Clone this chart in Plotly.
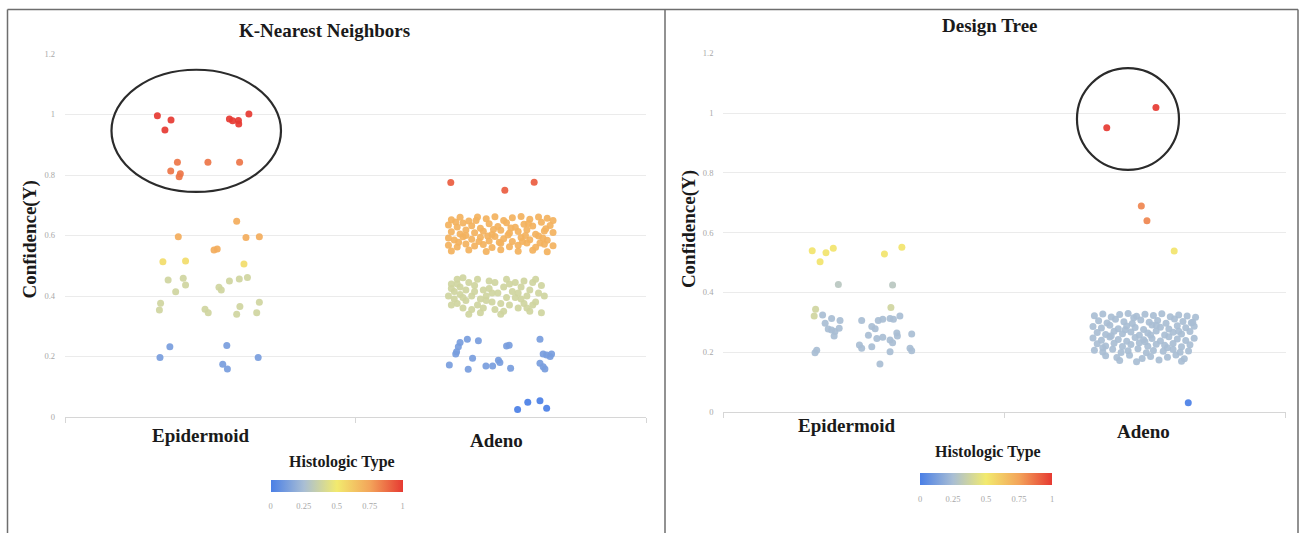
import plotly.graph_objects as go

W, H = 1301, 533

# ---------------- data ----------------
categories = ["Epidermoid", "Adeno"]
y_tickvals = [0, 0.2, 0.4, 0.6, 0.8, 1, 1.2]
y_ticktext = ["0", "0.2", "0.4", "0.6", "0.8", "1", "1.2"]
cbar_tickvals = [0, 0.25, 0.5, 0.75, 1]
cbar_ticktext = ["0", "0.25", "0.5", "0.75", "1"]

# (x jitter within category axis units, confidence)
# ---- K-Nearest Neighbors ----
knn_epi_red = [(0.318, 0.996), (0.365, 0.982), (0.344, 0.949), (0.566, 0.985), (0.577, 0.979),
               (0.597, 0.980), (0.598, 0.969), (0.633, 1.002)]
knn_epi_hi = [(0.387, 0.842), (0.364, 0.813), (0.397, 0.804), (0.393, 0.794), (0.492, 0.842), (0.601, 0.842)]
knn_epi_orange = [(0.591, 0.647), (0.390, 0.596), (0.623, 0.593), (0.669, 0.596), (0.524, 0.555), (0.513, 0.552)]
knn_epi_yellow = [(0.337, 0.513), (0.415, 0.516), (0.616, 0.506)]
knn_epi_green = [(0.355, 0.453), (0.407, 0.459), (0.415, 0.436), (0.381, 0.414), (0.530, 0.429), (0.538, 0.420),
                 (0.566, 0.450), (0.600, 0.456), (0.628, 0.461), (0.329, 0.376), (0.325, 0.354), (0.482, 0.356),
                 (0.493, 0.345), (0.602, 0.365), (0.591, 0.340), (0.669, 0.379), (0.660, 0.345)]
knn_epi_blue = [(0.361, 0.232), (0.327, 0.197), (0.557, 0.236), (0.665, 0.197), (0.543, 0.174), (0.559, 0.159)]

knn_ade_red = [(1.328, 0.775), (1.514, 0.750), (1.615, 0.776)]
knn_ade_orange = [
    (1.33, 0.652), (1.36, 0.660), (1.39, 0.648), (1.42, 0.661), (1.45, 0.655), (1.48, 0.662), (1.51, 0.650),
    (1.54, 0.659), (1.57, 0.663), (1.60, 0.654), (1.63, 0.661), (1.66, 0.657), (1.68, 0.650),
    (1.32, 0.635), (1.35, 0.628), (1.37, 0.641), (1.40, 0.632), (1.43, 0.624), (1.46, 0.639), (1.49, 0.630),
    (1.52, 0.642), (1.55, 0.627), (1.58, 0.637), (1.61, 0.631), (1.64, 0.644), (1.67, 0.633),
    (1.33, 0.612), (1.36, 0.605), (1.38, 0.618), (1.41, 0.609), (1.44, 0.614), (1.47, 0.603), (1.50, 0.617),
    (1.53, 0.608), (1.56, 0.613), (1.59, 0.619), (1.62, 0.604), (1.65, 0.615), (1.68, 0.610),
    (1.32, 0.592), (1.34, 0.585), (1.37, 0.596), (1.40, 0.588), (1.43, 0.594), (1.46, 0.582), (1.48, 0.597),
    (1.51, 0.589), (1.54, 0.580), (1.57, 0.593), (1.60, 0.586), (1.63, 0.598), (1.66, 0.584),
    (1.32, 0.568), (1.35, 0.562), (1.38, 0.572), (1.41, 0.565), (1.44, 0.570), (1.47, 0.560), (1.50, 0.574),
    (1.53, 0.563), (1.56, 0.568), (1.59, 0.575), (1.62, 0.561), (1.65, 0.571), (1.68, 0.566),
    (1.33, 0.549), (1.39, 0.552), (1.45, 0.547), (1.50, 0.553), (1.56, 0.548), (1.61, 0.551), (1.66, 0.546),
    (1.345, 0.645), (1.415, 0.650), (1.475, 0.620), (1.535, 0.625), (1.595, 0.640), (1.655, 0.622),
    (1.38, 0.600), (1.455, 0.598), (1.525, 0.602), (1.585, 0.600), (1.645, 0.592), (1.355, 0.578),
    (1.425, 0.580), (1.495, 0.578), (1.575, 0.580), (1.635, 0.575)]
knn_ade_green = [
    (1.33, 0.440), (1.35, 0.455), (1.37, 0.460), (1.36, 0.430), (1.34, 0.415), (1.32, 0.400), (1.34, 0.390),
    (1.36, 0.405), (1.38, 0.420), (1.39, 0.445), (1.41, 0.435), (1.40, 0.400), (1.38, 0.385), (1.35, 0.375),
    (1.33, 0.370), (1.37, 0.360), (1.40, 0.355), (1.42, 0.370), (1.43, 0.390), (1.44, 0.420), (1.46, 0.450),
    (1.45, 0.400), (1.47, 0.380), (1.48, 0.355), (1.50, 0.375), (1.49, 0.410), (1.51, 0.430), (1.52, 0.455),
    (1.53, 0.440), (1.54, 0.415), (1.55, 0.395), (1.53, 0.370), (1.56, 0.360), (1.57, 0.430), (1.58, 0.450),
    (1.59, 0.400), (1.60, 0.420), (1.61, 0.445), (1.62, 0.380), (1.63, 0.410), (1.64, 0.435), (1.65, 0.400),
    (1.60, 0.350), (1.64, 0.345), (1.58, 0.375), (1.43, 0.345), (1.39, 0.340), (1.46, 0.425), (1.48, 0.445),
    (1.52, 0.395), (1.35, 0.440), (1.42, 0.455), (1.44, 0.360), (1.50, 0.340), (1.56, 0.410), (1.62, 0.455),
    (1.57, 0.390), (1.41, 0.415), (1.37, 0.395), (1.47, 0.410), (1.55, 0.445), (1.61, 0.370), (1.33, 0.425),
    (1.51, 0.350), (1.45, 0.385), (1.59, 0.360)]
knn_ade_blue = [
    (1.360, 0.246), (1.354, 0.232), (1.348, 0.216), (1.345, 0.208), (1.385, 0.257), (1.423, 0.252),
    (1.323, 0.172), (1.388, 0.158), (1.403, 0.194), (1.449, 0.169), (1.472, 0.169), (1.492, 0.188),
    (1.497, 0.180), (1.520, 0.235), (1.529, 0.237), (1.534, 0.161), (1.635, 0.257), (1.646, 0.208),
    (1.658, 0.205), (1.670, 0.200), (1.675, 0.208), (1.635, 0.178), (1.646, 0.166), (1.652, 0.159)]
knn_ade_low = [(1.558, 0.025), (1.593, 0.049), (1.635, 0.054), (1.658, 0.029)]

# ---- Design Tree ----
dt_epi_yellow = [(0.316, 0.540), (0.344, 0.503), (0.365, 0.533), (0.391, 0.548), (0.573, 0.529), (0.635, 0.551)]
dt_epi_mid = [(0.409, 0.427), (0.602, 0.425)]
dt_epi_green = [(0.596, 0.350), (0.328, 0.344), (0.323, 0.321)]
dt_epi_gray = [
    (0.353, 0.325), (0.385, 0.313), (0.415, 0.306), (0.362, 0.297), (0.373, 0.278), (0.385, 0.274),
    (0.397, 0.269), (0.394, 0.254), (0.412, 0.280), (0.492, 0.306), (0.528, 0.286), (0.540, 0.279),
    (0.551, 0.306), (0.567, 0.310), (0.593, 0.313), (0.605, 0.310), (0.628, 0.321), (0.516, 0.257),
    (0.546, 0.246), (0.567, 0.250), (0.593, 0.241), (0.617, 0.264), (0.619, 0.254), (0.602, 0.232),
    (0.484, 0.224), (0.492, 0.213), (0.528, 0.218), (0.670, 0.261), (0.593, 0.202), (0.664, 0.213),
    (0.670, 0.205), (0.332, 0.207), (0.326, 0.198), (0.557, 0.161)]
dt_ade_red = [(1.364, 0.951), (1.539, 1.019)]
dt_ade_orange = [(1.487, 0.689), (1.507, 0.640)]
dt_ade_yellow = [(1.604, 0.539)]
dt_ade_gray = [
    (1.32, 0.322), (1.35, 0.328), (1.38, 0.318), (1.41, 0.326), (1.44, 0.330), (1.47, 0.320), (1.50, 0.327),
    (1.53, 0.323), (1.56, 0.329), (1.59, 0.319), (1.62, 0.325), (1.65, 0.321), (1.68, 0.317),
    (1.335, 0.305), (1.365, 0.298), (1.395, 0.310), (1.425, 0.302), (1.455, 0.296), (1.485, 0.308),
    (1.515, 0.300), (1.545, 0.306), (1.575, 0.297), (1.605, 0.311), (1.635, 0.303), (1.665, 0.299),
    (1.315, 0.286), (1.345, 0.281), (1.375, 0.290), (1.405, 0.279), (1.435, 0.288), (1.465, 0.283),
    (1.495, 0.276), (1.525, 0.291), (1.555, 0.284), (1.585, 0.278), (1.615, 0.289), (1.645, 0.282), (1.675, 0.287),
    (1.33, 0.266), (1.36, 0.259), (1.39, 0.270), (1.42, 0.262), (1.45, 0.268), (1.48, 0.257), (1.51, 0.264),
    (1.54, 0.271), (1.57, 0.258), (1.60, 0.267), (1.63, 0.261), (1.66, 0.269),
    (1.315, 0.248), (1.345, 0.240), (1.375, 0.251), (1.405, 0.243), (1.435, 0.237), (1.465, 0.249),
    (1.495, 0.242), (1.525, 0.246), (1.555, 0.238), (1.585, 0.252), (1.615, 0.244), (1.645, 0.239), (1.675, 0.247),
    (1.33, 0.228), (1.36, 0.221), (1.39, 0.230), (1.42, 0.219), (1.45, 0.226), (1.48, 0.232), (1.51, 0.220),
    (1.54, 0.227), (1.57, 0.223), (1.60, 0.229), (1.63, 0.218), (1.66, 0.225),
    (1.32, 0.207), (1.35, 0.201), (1.385, 0.210), (1.415, 0.199), (1.44, 0.205), (1.475, 0.212), (1.505, 0.198),
    (1.53, 0.206), (1.565, 0.203), (1.60, 0.209), (1.625, 0.200), (1.655, 0.204),
    (1.36, 0.188), (1.40, 0.182), (1.445, 0.190), (1.49, 0.179), (1.52, 0.186), (1.58, 0.183), (1.61, 0.191),
    (1.64, 0.178), (1.41, 0.172), (1.47, 0.168), (1.55, 0.174), (1.63, 0.170),
    (1.46, 0.315), (1.54, 0.290), (1.62, 0.270), (1.38, 0.255), (1.50, 0.235), (1.58, 0.215), (1.43, 0.275),
    (1.67, 0.300), (1.35, 0.215), (1.52, 0.258)]
dt_ade_low = [(1.654, 0.031)]

# histologic-type colour value of each cluster
knn_clusters = [(knn_epi_red, 1.0), (knn_epi_hi, 0.86), (knn_epi_orange, 0.72), (knn_epi_yellow, 0.55),
                (knn_epi_green, 0.38), (knn_epi_blue, 0.12), (knn_ade_red, 0.92), (knn_ade_orange, 0.70),
                (knn_ade_green, 0.38), (knn_ade_blue, 0.12), (knn_ade_low, 0.0)]
dt_clusters = [(dt_epi_yellow, 0.52), (dt_epi_mid, 0.30), (dt_epi_green, 0.38), (dt_epi_gray, 0.25),
               (dt_ade_red, 1.0), (dt_ade_orange, 0.82), (dt_ade_yellow, 0.52), (dt_ade_gray, 0.25),
               (dt_ade_low, 0.0)]

# ---------------- figure ----------------
colorscale = [[0, "#4a7fe6"], [0.25, "#a9bed4"], [0.5, "#f2ea6e"], [0.75, "#f3a45a"], [1, "#e63a32"]]
SERIF = "Liberation Serif"


def px_x(p):
    return p / W


def px_y(p):
    return 1 - p / H


fig = go.Figure()

for clusters, xa, ya, ca in [(knn_clusters, "x", "y", "coloraxis"), (dt_clusters, "x2", "y2", "coloraxis2")]:
    for pts, val in clusters:
        fig.add_trace(go.Scatter(
            x=[p[0] for p in pts], y=[p[1] for p in pts], mode="markers",
            xaxis=xa, yaxis=ya, showlegend=False, hoverinfo="skip",
            marker=dict(size=7, color=[val] * len(pts), coloraxis=ca, opacity=0.92, line=dict(width=0)),
        ))

xcommon = dict(range=[0, 2], showgrid=False, zeroline=False, showline=True, linecolor="#d6d6d6",
               linewidth=1, ticks="outside", tickvals=[0, 1, 2], ticktext=["", "", ""], ticklen=5,
               tickcolor="#d6d6d6", fixedrange=True)
ycommon = dict(range=[0, 1.2], showgrid=True, gridcolor="#ebebeb", gridwidth=1, zeroline=False,
               showline=False, tickvals=y_tickvals, ticktext=y_ticktext, ticks="",
               tickfont=dict(family=SERIF, size=8.5, color="#a8a8a8"), ticklabelstandoff=9, fixedrange=True)

cb_common = dict(orientation="h", xanchor="center", yanchor="top", lenmode="pixels", len=132,
                 thicknessmode="pixels", thickness=12, outlinewidth=0, tickvals=cbar_tickvals,
                 ticktext=cbar_ticktext, ticks="outside", ticklen=7, tickcolor="rgba(0,0,0,0)",
                 tickfont=dict(family=SERIF, size=8.5, color="#a8a8a8"), xpad=0, ypad=0)

fig.update_layout(
    width=W, height=H, margin=dict(l=0, r=0, t=0, b=0, autoexpand=False),
    paper_bgcolor="white", plot_bgcolor="white",
    xaxis=dict(domain=[px_x(65), px_x(646)], anchor="y", **xcommon),
    yaxis=dict(domain=[px_y(417), px_y(54)], anchor="x", **ycommon),
    xaxis2=dict(domain=[px_x(723.4), px_x(1285.5)], anchor="y2", **xcommon),
    yaxis2=dict(domain=[px_y(412), px_y(53.4)], anchor="x2", **ycommon),
    coloraxis=dict(colorscale=colorscale, cmin=0, cmax=1,
                   colorbar=dict(x=px_x(336.7), y=px_y(479.6), **cb_common)),
    coloraxis2=dict(colorscale=colorscale, cmin=0, cmax=1,
                    colorbar=dict(x=px_x(986), y=px_y(472.6), **cb_common)),
)

ann = []
bold = dict(family=SERIF, color="#1a1a1a", weight="bold")
# titles
ann.append(dict(text="K-Nearest Neighbors", x=px_x(324), y=px_y(30), font=dict(size=19, **bold)))
ann.append(dict(text="Design Tree", x=px_x(989.5), y=px_y(25.5), font=dict(size=19, **bold)))
# y titles
ann.append(dict(text="Confidence(Y)", x=px_x(29.5), y=px_y(240), textangle=-90, font=dict(size=19, **bold)))
ann.append(dict(text="Confidence(Y)", x=px_x(688.6), y=px_y(229.5), textangle=-90, font=dict(size=19, **bold)))
# colorbar titles
ann.append(dict(text="Histologic Type", x=px_x(341.7), y=px_y(461.6), font=dict(size=16, **bold)))
ann.append(dict(text="Histologic Type", x=px_x(988), y=px_y(452), font=dict(size=16, **bold)))
for a in ann:
    a.update(xref="paper", yref="paper", showarrow=False, xanchor="center", yanchor="middle")
# category labels
cat_ann = [("x", 0.468, px_y(435), categories[0]), ("x", 1.487, px_y(440), categories[1]),
           ("x2", 0.44, px_y(425.7), categories[0]), ("x2", 1.495, px_y(431), categories[1])]
for xr, xv, yv, t in cat_ann:
    ann.append(dict(text=t, x=xv, y=yv, xref=xr, yref="paper", showarrow=False, xanchor="center",
                    yanchor="middle", font=dict(size=19, **bold)))
fig.update_layout(annotations=ann)

shapes = []
# highlight ellipses
shapes.append(dict(type="circle", xref="x", yref="y", x0=0.160, x1=0.7435, y0=0.744, y1=1.148,
                   line=dict(color="#2b2b2b", width=2.2)))
shapes.append(dict(type="circle", xref="x2", yref="y2", x0=1.258, x1=1.621, y0=0.81, y1=1.151,
                   line=dict(color="#2b2b2b", width=2.2)))
# panel frames
frame = dict(color="#6e6e6e", width=1.5)
shapes.append(dict(type="line", xref="paper", yref="paper", x0=px_x(7.5), x1=px_x(1298), y0=px_y(9.5),
                   y1=px_y(9.5), line=frame))
for xpx in [7.5, 665, 1298]:
    shapes.append(dict(type="line", xref="paper", yref="paper", x0=px_x(xpx), x1=px_x(xpx), y0=px_y(9.5),
                       y1=-0.01, line=frame))
fig.update_layout(shapes=shapes)

fig.write_html("out.html", config={"displayModeBar": False},
               post_script="document.body.style.margin='0';")
